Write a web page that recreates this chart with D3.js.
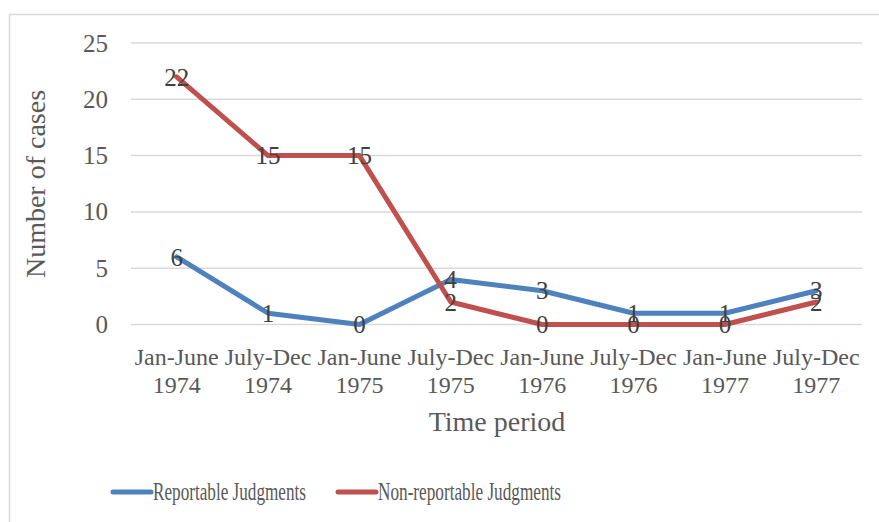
<!DOCTYPE html>
<html>
<head>
<meta charset="utf-8">
<script src="https://cdn.jsdelivr.net/npm/d3@7"></script>
<style>
  body { margin: 0; background: #fff; }
  text { font-family: "Liberation Serif", "DejaVu Serif", serif; fill: #595959; }
</style>
</head>
<body>
<div id="chart"></div>
<script>
// chart data
var periods = ["Jan-June|1974", "July-Dec|1974", "Jan-June|1975", "July-Dec|1975",
               "Jan-June|1976", "July-Dec|1976", "Jan-June|1977", "July-Dec|1977"];
var reportable = [6, 1, 0, 4, 3, 1, 1, 3];
var nonReportable = [22, 15, 15, 2, 0, 0, 0, 2];
var yTicks = [0, 5, 10, 15, 20, 25];
var seriesNames = ["Reportable Judgments", "Non-reportable Judgments"];
var seriesColours = ["#4F81BD", "#C0504D"];

var width = 879, height = 522;
var plotLeft = 131, plotRight = 862, plotTop = 43, plotBottom = 324.5;

var svg = d3.select("#chart").append("svg")
  .attr("width", width).attr("height", height);

// outer frame
svg.append("rect").attr("x", 9.5).attr("y", 14.5)
  .attr("width", 880).attr("height", 520)
  .attr("fill", "none").attr("stroke", "#D9D9D9").attr("stroke-width", 1.5);

var x = d3.scaleBand().domain(periods).range([plotLeft, plotRight]);
var y = d3.scaleLinear().domain([0, 25]).range([plotBottom, plotTop]);

// gridlines
svg.selectAll("line.grid").data(yTicks).enter().append("line")
  .attr("class", "grid")
  .attr("x1", plotLeft).attr("x2", plotRight)
  .attr("y1", function (d) { return y(d); }).attr("y2", function (d) { return y(d); })
  .attr("stroke", "#D9D9D9").attr("stroke-width", 1.5);

// y axis labels
var yAxis = svg.append("g").attr("transform", "translate(" + plotLeft + ",0)")
  .call(d3.axisLeft(y).tickValues(yTicks).tickSize(0).tickPadding(23));
yAxis.select(".domain").remove();
yAxis.selectAll("text").style("font-size", "25px")
  .style("font-family", "Liberation Serif").attr("fill", "#595959");

// x axis labels (two lines)
var xAxis = svg.append("g").attr("transform", "translate(0," + plotBottom + ")")
  .call(d3.axisBottom(x).tickSize(0).tickFormat(""));
xAxis.select(".domain").remove();
xAxis.selectAll(".tick").each(function (d) {
  var t = d3.select(this).append("text").attr("text-anchor", "middle")
    .style("font-size", "24px").attr("fill", "#595959");
  var parts = d.split("|");
  t.append("tspan").attr("x", 0).attr("y", 40).text(parts[0]);
  t.append("tspan").attr("x", 0).attr("y", 68).text(parts[1]);
});

// axis titles
svg.append("text").attr("x", 497).attr("y", 431).attr("text-anchor", "middle")
  .style("font-size", "28px").text("Time period");
svg.append("text").attr("transform", "translate(45,184) rotate(-90)")
  .attr("text-anchor", "middle").style("font-size", "28px").text("Number of cases");

// lines
var line = d3.line()
  .x(function (d, i) { return x(periods[i]) + x.bandwidth() / 2; })
  .y(function (d) { return y(d); });

var allSeries = [reportable, nonReportable];
allSeries.forEach(function (values, s) {
  svg.append("path").datum(values)
    .attr("d", line).attr("fill", "none")
    .attr("stroke", seriesColours[s]).attr("stroke-width", 5)
    .attr("stroke-linejoin", "round").attr("stroke-linecap", "round");
});

// data labels, centred on points
allSeries.forEach(function (values) {
  svg.selectAll(null).data(values).enter().append("text")
    .attr("x", function (d, i) { return x(periods[i]) + x.bandwidth() / 2; })
    .attr("y", function (d) { return y(d); })
    .attr("dy", "0.35em").attr("text-anchor", "middle")
    .style("font-size", "25px").style("fill", "#404040")
    .text(function (d) { return d; });
});

// legend
var legendX = [113, 338];
var legendW = [153, 183];
seriesNames.forEach(function (name, s) {
  svg.append("line").attr("x1", legendX[s]).attr("x2", legendX[s] + 38)
    .attr("y1", 492).attr("y2", 492)
    .attr("stroke", seriesColours[s]).attr("stroke-width", 5)
    .attr("stroke-linecap", "round");
  svg.append("text").attr("x", legendX[s] + 40).attr("y", 500)
    .style("font-size", "25px")
    .attr("textLength", legendW[s]).attr("lengthAdjust", "spacingAndGlyphs")
    .text(name);
});
</script>
</body>
</html>
